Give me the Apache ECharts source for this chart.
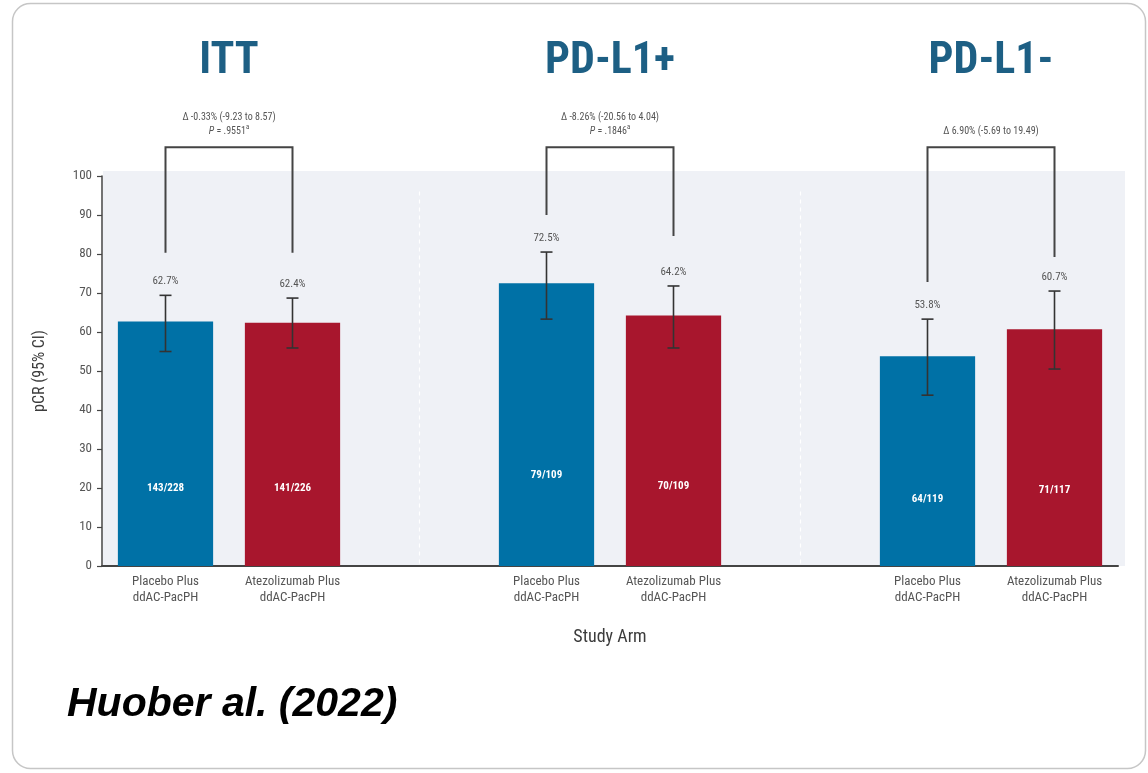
<!DOCTYPE html>
<html>
<head>
<meta charset="utf-8">
<title>pCR by study arm</title>
<script src="https://cdn.jsdelivr.net/npm/echarts@6/dist/echarts.min.js"></script>
<style>
  html, body { margin: 0; padding: 0; background: #ffffff; }
  #chart { width: 1148px; height: 773px; }
</style>
</head>
<body>
<div id="chart"></div>
<script>
// Populations and study arms
const groups = ['ITT', 'PD-L1+', 'PD-L1-'];
const arms = ['Placebo Plus\nddAC-PacPH', 'Atezolizumab Plus\nddAC-PacPH'];

// pCR rate (%) and 95% CI per arm, in order ITT, PD-L1+, PD-L1- (placebo, atezolizumab)
const pcrRate = [62.7, 62.4, 72.5, 64.2, 53.8, 60.7];
const ciLower = [55.0, 55.9, 63.3, 55.9, 43.8, 50.5];
const ciUpper = [69.4, 68.7, 80.5, 71.8, 63.3, 70.5];
const responders = ['143/228', '141/226', '79/109', '70/109', '64/119', '71/117'];

// Between-arm comparisons per population
const deltaText = ['\u0394 -0.33% (-9.23 to 8.57)', '\u0394 -8.26% (-20.56 to 4.04)', '\u0394 6.90% (-5.69 to 19.49)'];
const pValueText = ['.9551', '.1846', ''];
const bracketTop = [107.4, 107.4, 107.4];
const bracketLegLeft = [80.3, 90.0, 72.8];
const bracketLegRight = [80.3, 84.6, 79.2];

// Y-axis ticks
const yTicks = { min: 0, max: 100, interval: 10 };

const armColors = ['#0071a6', '#a8162d'];
const narrow = '"Liberation Sans Narrow", "Arial Narrow", "Roboto Condensed", "Liberation Sans", sans-serif';

// Category slots: two arms per population with an empty slot between populations
const categories = [];
const slotOfBar = [];
const separatorSlots = [];
groups.forEach((g, gi) => {
  if (gi > 0) { separatorSlots.push(categories.length); categories.push(''); }
  arms.forEach(a => { slotOfBar.push(categories.length); categories.push(a); });
});

const barData = categories.map(() => '-');
pcrRate.forEach((v, i) => {
  barData[slotOfBar[i]] = { value: v, itemStyle: { color: armColors[i % 2] } };
});

const errData = pcrRate.map((v, i) => [slotOfBar[i], ciLower[i], ciUpper[i], v, i]);
const groupData = groups.map((g, gi) => [slotOfBar[gi * 2], slotOfBar[gi * 2 + 1], gi]);

const chart = echarts.init(document.getElementById('chart'));

chart.setOption({
  animation: false,
  backgroundColor: '#ffffff',
  graphic: [
    {
      type: 'rect', z: -10, silent: true,
      shape: { x: 12.5, y: 3.5, width: 1133, height: 765, r: 18 },
      style: { fill: '#ffffff', stroke: '#c6c6c6', lineWidth: 1.5 }
    },
    {
      type: 'rect', z: -5, silent: true,
      shape: { x: 103, y: 171, width: 1022, height: 395 },
      style: { fill: '#eff1f6' }
    },
    {
      type: 'text', left: 67, top: 684, silent: true,
      style: {
        text: 'Huober al. (2022)',
        font: 'italic bold 41px "Liberation Sans", Arial, sans-serif',
        fill: '#000000'
      }
    }
  ],
  grid: { left: 102, right: 30, top: 176, bottom: 207, containLabel: false },
  xAxis: {
    type: 'category',
    data: categories,
    name: 'Study Arm',
    nameLocation: 'middle',
    nameGap: 62,
    nameTextStyle: { fontFamily: narrow, fontSize: 18, color: '#3c3c3c' },
    axisLine: { lineStyle: { color: '#444444', width: 2 } },
    axisTick: { show: false },
    axisLabel: {
      interval: 0, margin: 8, fontFamily: narrow, fontSize: 13,
      color: '#555555', lineHeight: 16
    },
    splitLine: { show: false }
  },
  yAxis: {
    type: 'value',
    min: yTicks.min, max: yTicks.max, interval: yTicks.interval,
    name: 'pCR (95% CI)',
    nameLocation: 'middle',
    nameRotate: 90,
    nameGap: 54,
    nameTextStyle: { fontFamily: narrow, fontSize: 16, color: '#3c3c3c' },
    axisLine: { show: true, lineStyle: { color: '#444444', width: 1.5 } },
    axisTick: { show: true, length: 5, lineStyle: { color: '#444444', width: 1.2 } },
    axisLabel: { fontFamily: narrow, fontSize: 13, color: '#555555', margin: 10 },
    splitLine: { show: false }
  },
  series: [
    {
      type: 'bar',
      data: barData,
      barWidth: '75%',
      z: 2,
      markLine: {
        silent: true,
        symbol: 'none',
        label: { show: false },
        lineStyle: { color: '#ffffff', type: [4, 4], width: 1.2 },
        data: separatorSlots.map(s => [{ coord: [s, 96] }, { coord: [s, 0] }])
      }
    },
    {
      // 95% CI whiskers, rate labels above them and responder counts inside the bars
      type: 'custom',
      data: errData,
      z: 5,
      clip: false,
      renderItem: (params, api) => {
        const slot = api.value(0);
        const lo = api.coord([slot, api.value(1)]);
        const hi = api.coord([slot, api.value(2)]);
        const rate = api.value(3);
        const idx = api.value(4);
        const inner = api.coord([slot, rate * 0.32]);
        const cap = 6;
        const ls = { stroke: '#333333', lineWidth: 1.6 };
        return {
          type: 'group',
          children: [
            { type: 'line', shape: { x1: lo[0], y1: lo[1], x2: hi[0], y2: hi[1] }, style: ls },
            { type: 'line', shape: { x1: hi[0] - cap, y1: hi[1], x2: hi[0] + cap, y2: hi[1] }, style: ls },
            { type: 'line', shape: { x1: lo[0] - cap, y1: lo[1], x2: lo[0] + cap, y2: lo[1] }, style: ls },
            {
              type: 'text',
              style: {
                text: rate.toFixed(1) + '%', x: hi[0], y: hi[1] - 14,
                align: 'center', verticalAlign: 'middle',
                font: '11px ' + narrow, fill: '#555555'
              }
            },
            {
              type: 'text',
              style: {
                text: responders[idx], x: inner[0], y: inner[1],
                align: 'center', verticalAlign: 'middle',
                font: 'bold 11px ' + narrow, fill: '#ffffff'
              }
            }
          ]
        };
      }
    },
    {
      // Population titles, comparison brackets and their annotations
      type: 'custom',
      data: groupData,
      z: 6,
      clip: false,
      renderItem: (params, api) => {
        const sL = api.value(0), sR = api.value(1), gi = api.value(2);
        const top = bracketTop[gi];
        const pL = api.coord([sL, top]);
        const pR = api.coord([sR, top]);
        const bL = api.coord([sL, bracketLegLeft[gi]]);
        const bR = api.coord([sR, bracketLegRight[gi]]);
        const cx = (pL[0] + pR[0]) / 2;
        const annot = pValueText[gi]
          ? deltaText[gi] + '\n{i|P} = ' + pValueText[gi] + '{s|a}'
          : deltaText[gi];
        return {
          type: 'group',
          children: [
            {
              type: 'polyline',
              shape: { points: [[bL[0], bL[1]], [pL[0], pL[1]], [pR[0], pR[1]], [bR[0], bR[1]]] },
              style: { stroke: '#444444', lineWidth: 2, fill: null }
            },
            {
              type: 'text',
              style: {
                text: annot, x: cx, y: pL[1] - 9,
                align: 'center', verticalAlign: 'bottom',
                font: '10px ' + narrow, fill: '#555555', lineHeight: 14,
                rich: {
                  i: { fontStyle: 'italic', fontSize: 10, fontFamily: narrow, fill: '#555555' },
                  s: { fontSize: 7, fontFamily: narrow, fill: '#555555', verticalAlign: 'top', padding: [0, 0, 6, 0] }
                }
              }
            },
            {
              type: 'text',
              style: {
                text: groups[gi], x: cx, y: 62,
                align: 'center', verticalAlign: 'middle',
                font: 'bold 44px ' + narrow, fill: '#1d5f84'
              }
            }
          ]
        };
      }
    }
  ]
});
</script>
</body>
</html>
